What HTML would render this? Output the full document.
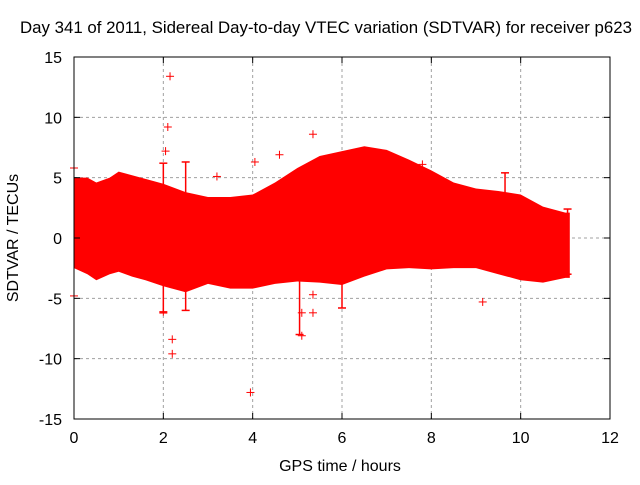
<!DOCTYPE html>
<html><head><meta charset="utf-8"><style>
body{margin:0;background:#fff;}
svg text{font-family:"Liberation Sans",sans-serif;font-size:16px;fill:#000;}
</style></head><body>
<svg width="640" height="480" id="c">
<rect width="640" height="480" fill="#fff"/>
<g id="grid"></g><g id="data"></g><g id="axes"></g>
<text x="326" y="33" text-anchor="middle" style="font-size:16.8px" textLength="612" lengthAdjust="spacingAndGlyphs">Day 341 of 2011, Sidereal Day-to-day VTEC variation (SDTVAR) for receiver p623</text>
<text x="340" y="471" text-anchor="middle">GPS time / hours</text>
<text transform="translate(18,238) rotate(-90)" text-anchor="middle">SDTVAR / TECUs</text>
</svg>
<script>
const xTicks=[0,2,4,6,8,10,12];
const yTicks=[-15,-10,-5,0,5,10,15];
const envT=[0,0.3,0.5,0.8,1.0,1.3,1.6,2.0,2.5,3.0,3.5,4.0,4.5,5.0,5.5,6.0,6.5,7.0,7.5,8.0,8.5,9.0,9.5,10.0,10.5,11.0,11.1];
const envUpper=[5.0,5.0,4.6,5.0,5.5,5.2,4.9,4.5,3.8,3.4,3.4,3.6,4.6,5.8,6.8,7.2,7.6,7.3,6.5,5.6,4.6,4.1,3.9,3.6,2.6,2.1,2.1];
const envLower=[-2.5,-3.0,-3.5,-3.0,-2.8,-3.2,-3.5,-4.0,-4.5,-3.8,-4.2,-4.2,-3.8,-3.6,-3.7,-3.9,-3.2,-2.6,-2.5,-2.6,-2.5,-2.5,-3.0,-3.5,-3.7,-3.3,-3.3];
const outT=[2.15,2.1,2.05,5.35,4.05,4.6,7.8,3.2,2.2,2.2,3.95,5.1,5.1,5.35,5.35,9.15,2.0,0,0];
const outV=[13.4,9.2,7.2,8.6,6.3,6.9,6.1,5.1,-8.4,-9.6,-12.8,-8.1,-6.2,-6.2,-4.7,-5.3,-6.1,5.8,-4.8];
const barT=[2.5,2.0,5.05,9.65,11.05,6.0];
const barLo=[-6.0,-6.2,-8.0,3.5,-3.0,-5.8];
const barHi=[6.3,6.2,-3.0,5.4,2.4,-3.0];
const X0=74,X1=610,Y0=419,Y1=57;
const sx=v=>X0+(v-0)/12*(X1-X0);
const sy=v=>Y0-(v+15)/30*(Y0-Y1);
const NS='http://www.w3.org/2000/svg';
function mk(p,t,a){const e=document.createElementNS(NS,t);for(const k in a)e.setAttribute(k,a[k]);p.appendChild(e);return e;}
const G=document.getElementById('grid'),D=document.getElementById('data'),A=document.getElementById('axes');
xTicks.forEach(t=>{const x=sx(t);
 if(t>0&&t<12){const l=mk(G,'line',{x1:x,x2:x,y1:Y1,y2:Y0,stroke:'#a0a0a0','stroke-dasharray':'3,3'});
 
 }
 mk(A,'line',{x1:x,x2:x,y1:Y0,y2:Y0-6,stroke:'#000'});mk(A,'line',{x1:x,x2:x,y1:Y1,y2:Y1+6,stroke:'#000'});
 const tx=mk(A,'text',{x:x,y:Y0+24,'text-anchor':'middle'});tx.textContent=t;
 
 });
yTicks.forEach(t=>{const y=sy(t);
 if(t>-15&&t<15){const l=mk(G,'line',{x1:X0,x2:X1,y1:y,y2:y,stroke:'#a0a0a0','stroke-dasharray':'3,3'});
 
 }
 mk(A,'line',{x1:X0,x2:X0+6,y1:y,y2:y,stroke:'#000'});mk(A,'line',{x1:X1,x2:X1-6,y1:y,y2:y,stroke:'#000'});
 const tx=mk(A,'text',{x:X0-12,y:y+6,'text-anchor':'end'});tx.textContent=t;
 
 });
const fr=mk(A,'rect',{x:X0,y:Y1,width:X1-X0,height:Y0-Y1,fill:'none',stroke:'#000'});


let pts=envT.map((t,i)=>sx(t)+','+sy(envUpper[i]));
for(let i=envT.length-1;i>=0;i--)pts.push(sx(envT[i])+','+sy(envLower[i]));
const band=mk(D,'polygon',{points:pts.join(' '),fill:'#ff0000'});


barT.forEach((t,i)=>{const g=mk(D,'g',{stroke:'#ff0000','stroke-width':1.5});
 
 
 const x=sx(t);mk(g,'line',{x1:x,x2:x,y1:sy(barLo[i]),y2:sy(barHi[i])});
 mk(g,'line',{x1:x-4,x2:x+4,y1:sy(barLo[i]),y2:sy(barLo[i])});
 mk(g,'line',{x1:x-4,x2:x+4,y1:sy(barHi[i]),y2:sy(barHi[i])});});
outT.forEach((t,i)=>{const x=sx(t),y=sy(outV[i]);const g=mk(D,'g',{stroke:'#ff0000','stroke-width':1});
 
 
 mk(g,'line',{x1:x-4,x2:x+4,y1:y,y2:y});mk(g,'line',{x1:x,x2:x,y1:y-4,y2:y+4});});
</script>
</body></html>
